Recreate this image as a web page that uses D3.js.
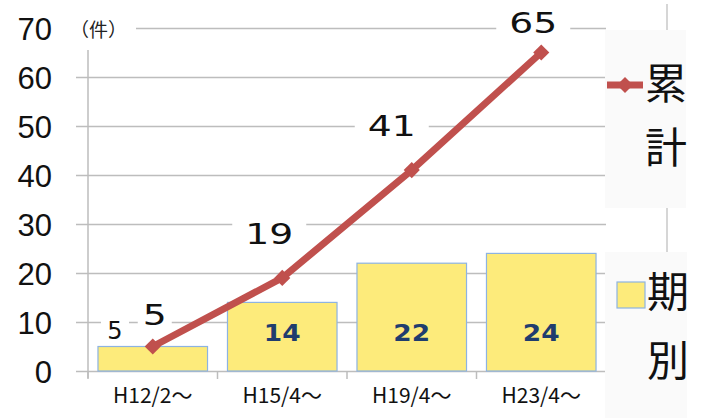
<!DOCTYPE html>
<html>
<head>
<meta charset="utf-8">
<script src="https://cdn.jsdelivr.net/npm/d3@7"></script>
<style>
  body { margin: 0; background: #fff; }
  svg { display: block; }
</style>
</head>
<body>
<div id="chart"></div>
<script>
// data
var periods = ["H12/2〜", "H15/4〜", "H19/4〜", "H23/4〜"];
var perPeriod = [5, 14, 22, 24];     // 期別 (bars)
var cumulative = [5, 19, 41, 65];    // 累計 (line)
var yTicks = [0, 10, 20, 30, 40, 50, 60, 70];

var W = 702, H = 418;
var red = "#c0504d", yellow = "#fdeb7b", barStroke = "#8db3e2", grid = "#bdbdbd";

var svg = d3.select("#chart").append("svg")
	.attr("width", W)
	.attr("height", H);

var x = d3.scaleBand()
	.domain(periods)
	.range([88, 606])
	.paddingInner(0.154)
	.paddingOuter(0.077);

var y = d3.scaleLinear()
	.domain([0, 70])
	.range([371, 28]);

// odd vertical rule behind the legend
svg.append("line")
	.attr("x1", 667).attr("x2", 667)
	.attr("y1", 4).attr("y2", H)
	.attr("stroke", "#c8c8c8").attr("stroke-width", 1.5);

// gridlines
var gridG = svg.append("g")
	.attr("transform", "translate(606,0)")
	.call(d3.axisLeft(y).tickValues(yTicks).tickSize(530).tickFormat(""));
gridG.select(".domain").remove();
gridG.selectAll(".tick line").attr("stroke", grid).attr("stroke-width", 1.5);

// y axis line
svg.append("line")
	.attr("x1", 88).attr("x2", 88)
	.attr("y1", 50).attr("y2", 378)
	.attr("stroke", grid).attr("stroke-width", 1.5);

// y tick labels
var yLab = svg.append("g")
	.attr("transform", "translate(52,0)")
	.call(d3.axisLeft(y).tickValues(yTicks).tickSize(0).tickPadding(0));
yLab.select(".domain").remove();
yLab.selectAll("text")
	.attr("font-family", "'Liberation Sans', Arial, sans-serif")
	.attr("font-size", 31)
	.attr("fill", "#111")
	.attr("dy", "0.36em");

// unit label with white backing
var unit = svg.append("g");
unit.append("rect").attr("x", 70).attr("y", 18).attr("width", 66).attr("height", 22).attr("fill", "#fff");
unit.append("text")
	.attr("x", 70).attr("y", 37)
	.attr("font-family", "'Noto Sans CJK JP', sans-serif")
	.attr("font-size", 19)
	.attr("fill", "#222")
	.text("（件）");

// x ticks at category boundaries
var bounds = periods.map(function(p) { return x(p) - x.step() * x.paddingInner() / 2; });
bounds.push(x(periods[periods.length - 1]) + x.bandwidth() + x.step() * x.paddingInner() / 2);
svg.selectAll(".xtick").data(bounds).enter().append("line")
	.attr("class", "xtick")
	.attr("x1", function(d) { return d; }).attr("x2", function(d) { return d; })
	.attr("y1", y(0)).attr("y2", y(0) + 8)
	.attr("stroke", grid).attr("stroke-width", 1.5);

// x labels
var xLab = svg.append("g")
	.attr("transform", "translate(0," + y(0) + ")")
	.call(d3.axisBottom(x).tickSize(0).tickPadding(0));
xLab.select(".domain").remove();
xLab.selectAll("text")
	.attr("font-family", "'Noto Sans CJK JP', sans-serif")
	.attr("font-size", 21)
	.attr("fill", "#111")
	.attr("dy", "1.5em");

// bars
svg.selectAll(".bar").data(perPeriod).enter().append("rect")
	.attr("class", "bar")
	.attr("x", function(d, i) { return x(periods[i]); })
	.attr("y", function(d) { return y(d); })
	.attr("width", x.bandwidth())
	.attr("height", function(d) { return y(0) - y(d); })
	.attr("fill", yellow)
	.attr("stroke", barStroke)
	.attr("stroke-width", 1.2);

// bar value labels
svg.selectAll(".barlab").data(perPeriod).enter().append("text")
	.attr("class", "barlab")
	.attr("transform", function(d, i) {
		if (i == 0) return "translate(" + (x(periods[i]) + 17) + "," + (y(d) - 8) + ")";
		return "translate(" + (x(periods[i]) + x.bandwidth() / 2) + ",341) scale(1.15,1)";
	})
	.attr("text-anchor", "middle")
	.attr("font-family", "'DejaVu Sans', sans-serif")
	.attr("font-size", function(d, i) { return i == 0 ? 24 : 23; })
	.attr("font-weight", function(d, i) { return i == 0 ? "normal" : "bold"; })
	.attr("fill", function(d, i) { return i == 0 ? "#111" : "#1f3d6e"; })
	.text(function(d) { return d; });

// small "5" white backing
svg.insert("rect", ".barlab")
	.attr("x", 101).attr("y", 320).attr("width", 28).attr("height", 5).attr("fill", "#fff");

// cumulative line
var cx = function(d, i) { return x(periods[i]) + x.bandwidth() / 2; };
var line = d3.line()
	.x(cx)
	.y(function(d) { return y(d); });

svg.append("path")
	.datum(cumulative)
	.attr("d", line)
	.attr("fill", "none")
	.attr("stroke", red)
	.attr("stroke-width", 7);

var diamond = d3.symbol().type(d3.symbolSquare).size(130);
svg.selectAll(".pt").data(cumulative).enter().append("path")
	.attr("class", "pt")
	.attr("d", diamond)
	.attr("transform", function(d, i) { return "translate(" + cx(d, i) + "," + y(d) + ") rotate(45)"; })
	.attr("fill", red);

// line value labels (offsets from each point)
var labDx = [2, -13, -20, -8];
var labDy = [-32, -44, -45, -30];
var lab = svg.selectAll(".linelab").data(cumulative).enter().append("g")
	.attr("class", "linelab")
	.attr("transform", function(d, i) { return "translate(" + (cx(d, i) + labDx[i]) + "," + (y(d) + labDy[i]) + ")"; });
lab.append("rect")
	.attr("x", function(d) { return String(d).length > 1 ? -37 : -17; })
	.attr("y", -14)
	.attr("width", function(d) { return String(d).length > 1 ? 74 : 34; })
	.attr("height", 28)
	.attr("fill", "#fff");
lab.append("text")
	.attr("transform", "scale(1.3,1)")
	.attr("text-anchor", "middle")
	.attr("dy", "0.36em")
	.attr("font-family", "'DejaVu Sans', sans-serif")
	.attr("font-size", 29)
	.attr("fill", "#111")
	.text(function(d) { return d; });

// legend: 累計
var leg1 = svg.append("g");
leg1.append("rect").attr("x", 605).attr("y", 30).attr("width", 81).attr("height", 178).attr("fill", "#fafafa");
leg1.append("line")
	.attr("x1", 607).attr("x2", 643).attr("y1", 85).attr("y2", 85)
	.attr("stroke", red).attr("stroke-width", 7);
leg1.append("path")
	.attr("d", diamond)
	.attr("transform", "translate(625,85) rotate(45)")
	.attr("fill", red);
leg1.selectAll("text").data(["累", "計"]).enter().append("text")
	.attr("x", 645)
	.attr("y", function(d, i) { return 99 + i * 64; })
	.attr("font-family", "'Noto Sans CJK JP', sans-serif")
	.attr("font-size", 42)
	.attr("fill", "#111")
	.text(function(d) { return d; });

// legend: 期別
var leg2 = svg.append("g");
leg2.append("rect").attr("x", 605).attr("y", 252).attr("width", 82).attr("height", 170).attr("fill", "#fafafa");
leg2.append("rect")
	.attr("x", 617).attr("y", 282).attr("width", 28).attr("height", 26)
	.attr("fill", yellow).attr("stroke", barStroke).attr("stroke-width", 1.2);
leg2.selectAll("text").data(["期", "別"]).enter().append("text")
	.attr("x", 647)
	.attr("y", function(d, i) { return 307 + i * 69; })
	.attr("font-family", "'Noto Sans CJK JP', sans-serif")
	.attr("font-size", 42)
	.attr("fill", "#111")
	.text(function(d) { return d; });
</script>
</body>
</html>
